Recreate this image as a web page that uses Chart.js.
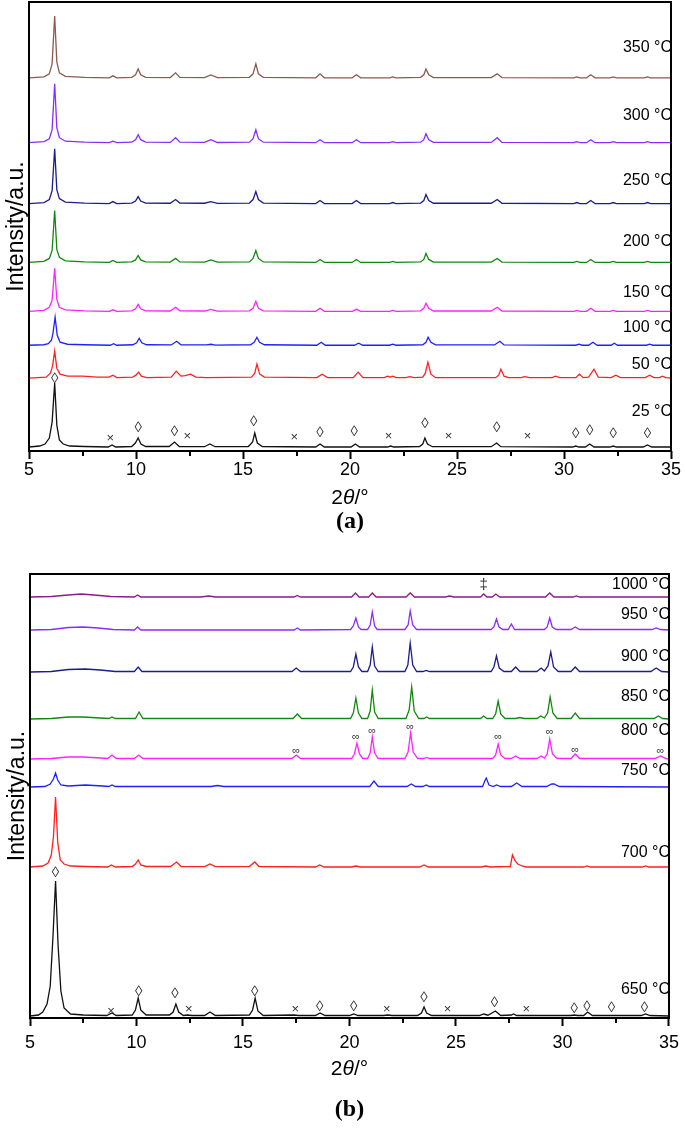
<!DOCTYPE html>
<html>
<head>
<meta charset="utf-8">
<script src="https://cdn.jsdelivr.net/npm/chart.js@4.4.1/dist/chart.umd.min.js"></script>
<style>
  html, body { margin: 0; padding: 0; background: #fff; }
  #wrap { position: relative; width: 685px; height: 1132px; }
  .panel { position: absolute; left: 0; width: 685px; }
  #boxA { top: 0; height: 560px; }
  #boxB { top: 566px; height: 566px; }
</style>
</head>
<body>
<div id="wrap">
  <div class="panel" id="boxA"><canvas id="chartA" width="685" height="560"></canvas></div>
  <div class="panel" id="boxB"><canvas id="chartB" width="685" height="566"></canvas></div>
</div>
<script>
// ---- panel (a): 25-350 °C ----
const tempsA = ['350 °C', '300 °C', '250 °C', '200 °C', '150 °C', '100 °C', '50 °C', '25 °C'];
const offsetsA = [374, 309, 248, 189, 140, 106, 73, 4];
const labelLevelA = [404, 336, 271, 210, 159, 124, 87, 39];

const p350 = [[5,0],[5.7,1],[5.95,4],[6.08,14],[6.2,62],[6.3,16],[6.42,5],[6.7,1.5],[7.6,0.5],[8.75,0],[8.92,2],[9.1,0],[9.8,0.5],[9.98,3],[10.1,9],[10.22,3],[10.45,0.5],[11.6,0.3],[11.85,5],[12.05,0.5],[13.2,0.3],[13.5,3],[13.8,0.2],[15.3,0.5],[15.47,4],[15.6,14],[15.72,4],[15.95,0.5],[18.4,0],[18.6,4],[18.8,0],[20.1,0],[20.3,3],[20.5,0],[21.85,0],[22,1],[22.15,0],[23.3,0.5],[23.45,3],[23.55,9],[23.68,3],[23.9,0.3],[26.6,0.3],[26.88,4],[27.1,0.3],[30.45,0],[30.6,1],[30.75,0],[31.05,0],[31.25,3],[31.45,0],[32.15,0],[32.3,1],[32.45,0],[33.75,0],[33.9,1],[34.05,0],[35,0]];
const p300 = [[5,0],[5.7,1],[5.95,4],[6.08,13],[6.2,59],[6.3,15],[6.42,5],[6.7,1.5],[7.6,0.5],[8.75,0],[8.92,1.5],[9.1,0],[9.8,0.5],[9.98,3],[10.1,8],[10.22,3],[10.45,0.5],[11.6,0.3],[11.85,5],[12.05,0.5],[13.2,0.3],[13.5,3],[13.8,0.2],[15.3,0.5],[15.47,4],[15.6,13],[15.72,4],[15.95,0.5],[18.4,0],[18.6,3],[18.8,0],[20.1,0],[20.3,3],[20.5,0],[21.85,0],[22,1],[22.15,0],[23.3,0.5],[23.45,3],[23.55,9],[23.68,3],[23.9,0.3],[26.6,0.3],[26.88,5],[27.1,0.3],[30.45,0],[30.6,1],[30.75,0],[31.05,0],[31.25,3],[31.45,0],[32.15,0],[32.3,1],[32.45,0],[33.75,0],[33.9,1],[34.05,0],[35,0]];
const p250 = [[5,0],[5.7,1],[5.95,4],[6.08,13],[6.2,55],[6.3,14],[6.42,5],[6.7,1.5],[7.6,0.5],[8.75,0],[8.92,2],[9.1,0],[9.8,0.5],[9.98,2.5],[10.1,7],[10.22,2.5],[10.45,0.5],[11.6,0.3],[11.85,4],[12.05,0.5],[13.2,0.3],[13.5,2],[13.8,0.2],[15.3,0.5],[15.47,4],[15.6,12],[15.72,4],[15.95,0.5],[18.4,0],[18.6,3],[18.8,0],[20.1,0],[20.3,3],[20.5,0],[21.85,0],[22,1],[22.15,0],[23.3,0.5],[23.45,3],[23.55,9],[23.68,3],[23.9,0.3],[26.6,0.3],[26.88,4],[27.1,0.3],[30.45,0],[30.6,1],[30.75,0],[31.05,0],[31.25,3],[31.45,0],[32.15,0],[32.3,1],[32.45,0],[33.75,0],[33.9,1],[34.05,0],[35,0]];
const p200 = [[5,0],[5.7,1],[5.95,4],[6.08,12],[6.2,52],[6.3,13],[6.42,5],[6.7,1.5],[7.6,0.5],[8.75,0],[8.92,2],[9.1,0],[9.8,0.5],[9.98,2.5],[10.1,7],[10.22,2.5],[10.45,0.5],[11.6,0.3],[11.85,4],[12.05,0.5],[13.2,0.3],[13.5,2.5],[13.8,0.2],[15.3,0.5],[15.47,4],[15.6,12],[15.72,4],[15.95,0.5],[18.4,0],[18.6,3],[18.8,0],[20.1,0],[20.3,3],[20.5,0],[21.85,0],[22,1],[22.15,0],[23.3,0.5],[23.45,3],[23.55,9],[23.68,3],[23.9,0.3],[26.6,0.3],[26.88,4],[27.1,0.3],[30.45,0],[30.6,1],[30.75,0],[31.05,0],[31.25,3],[31.45,0],[32.15,0],[32.3,1],[32.45,0],[33.75,0],[33.9,1],[34.05,0],[35,0]];
const p150 = [[5,0],[5.7,1],[5.95,4],[6.08,11],[6.2,43],[6.3,12],[6.42,4],[6.7,1.5],[7.6,0.5],[8.75,0],[8.92,1.5],[9.1,0],[9.8,0.5],[9.98,2.5],[10.1,7],[10.22,2.5],[10.45,0.5],[11.6,0.3],[11.85,4],[12.05,0.5],[13.2,0.3],[13.5,2],[13.8,0.2],[15.3,0.5],[15.47,3],[15.6,10],[15.72,3],[15.95,0.5],[18.4,0],[18.6,3],[18.8,0],[20.1,0],[20.3,2],[20.5,0],[21.85,0],[22,1],[22.15,0],[23.3,0.5],[23.45,3],[23.55,8],[23.68,3],[23.9,0.3],[26.6,0.3],[26.88,4],[27.1,0.3],[30.45,0],[30.6,1],[30.75,0],[31.05,0],[31.25,3],[31.45,0],[32.15,0],[32.3,1],[32.45,0],[33.75,0],[33.9,1],[34.05,0],[35,0]];
const p100 = [[5,0],[5.7,0.5],[5.9,1.5],[6.05,5],[6.12,12],[6.22,28],[6.32,10],[6.45,3],[6.8,1],[7.6,0.5],[8.8,0],[8.95,1.5],[9.1,0],[9.85,0.5],[10.03,2.5],[10.15,7],[10.27,2.5],[10.5,0.5],[11.65,0.3],[11.9,4],[12.1,0.5],[13.3,0.3],[13.5,1],[13.7,0.2],[15.35,0.5],[15.52,3],[15.65,8],[15.77,3],[16,0.5],[18.45,0],[18.65,3],[18.85,0],[20.2,0],[20.4,2],[20.6,0],[21.85,0],[22,1],[22.15,0],[23.4,0.5],[23.55,3],[23.65,8],[23.78,3],[24,0.3],[26.75,0.3],[27,4],[27.2,0.3],[30.55,0],[30.7,1],[30.85,0],[31.15,0],[31.35,3],[31.55,0],[32.2,0],[32.35,2],[32.5,0],[33.85,0],[34,1],[34.15,0],[35,0]];
const p50 = [[5,0],[5.8,1],[6,5],[6.1,12],[6.2,27],[6.3,10],[6.45,4],[6.8,2],[7.5,2],[8.2,1],[8.75,1],[8.92,3],[9.1,0.5],[9.85,1],[10,3],[10.12,6],[10.25,2],[10.5,0.5],[11.65,1],[11.88,7],[12.1,2],[12.3,2.5],[12.55,4],[12.8,1],[13.3,0.5],[15.4,1],[15.55,5],[15.65,14],[15.78,4],[16,1],[18.45,0.5],[18.7,4],[18.95,0.5],[20.15,0.5],[20.38,6],[20.6,0.5],[21.6,0.5],[21.75,2],[21.88,1],[22,2],[22.15,0.5],[22.6,0.5],[22.8,1.5],[23,0.5],[23.4,1],[23.52,5],[23.64,16],[23.78,4],[24,0.5],[26.8,0.5],[26.95,3],[27.05,9],[27.2,2],[27.4,0.5],[28,0.5],[28.15,1.5],[28.4,0.5],[29.45,0.5],[29.6,2],[29.8,0.5],[30.55,0.5],[30.72,4],[30.9,0.5],[31.15,1],[31.4,9],[31.6,1],[32.2,0.5],[32.42,3],[32.65,0.5],[33.8,0.5],[34,3],[34.2,0.5],[34.45,0.5],[34.6,2],[34.75,0.5],[35,0]];
const p25 = [[5,0],[5.5,1],[5.75,3],[5.95,9],[6.08,25],[6.2,64],[6.3,22],[6.42,7],[6.6,3],[6.9,1],[7.6,0.5],[8.7,0],[8.88,2],[9.05,0],[9.8,0.5],[9.97,4],[10.1,9],[10.23,3],[10.45,0.5],[11.55,0.5],[11.8,5],[12.02,0.5],[13.2,0.3],[13.45,3],[13.7,0.3],[15.25,0.5],[15.45,5],[15.55,14],[15.67,4],[15.9,0.5],[18.4,0],[18.6,3],[18.8,0],[20.05,0],[20.25,3],[20.45,0],[21.75,0],[21.9,1],[22.05,0],[23.25,0.5],[23.4,3],[23.5,9],[23.62,3],[23.85,0.3],[26.6,0.3],[26.85,4],[27.05,0.3],[30.4,0],[30.55,1],[30.7,0],[31,0],[31.2,3],[31.4,0],[32.15,0],[32.3,1],[32.45,0],[33.7,0],[33.9,2],[34.1,0],[35,0]];
const patternsA = [p350, p300, p250, p200, p150, p100, p50, p25];

// phase marks over the 25 °C pattern: [2θ, level, symbol]
const marksA = [[6.2,72,'◊'],[8.8,13,'×'],[10.1,23,'◊'],[11.8,19,'◊'],[12.4,15,'×'],[15.5,29,'◊'],[17.4,14,'×'],[18.6,18,'◊'],[20.2,19,'◊'],[21.8,15,'×'],[23.5,27,'◊'],[24.6,15,'×'],[26.85,23,'◊'],[28.3,15,'×'],[30.55,17,'◊'],[31.2,20,'◊'],[32.3,17,'◊'],[33.9,17,'◊']];

// ---- panel (b): 650-1000 °C ----
const tempsB = ['1000 °C', '950 °C', '900 °C', '850 °C', '800 °C', '750 °C', '700 °C', '650 °C'];
const offsetsB = [421, 388, 346, 299, 259, 231, 151, 2];
const labelLevelB = [433, 403, 361, 321, 287, 247, 165, 28];

const p1000 = [[5,0],[6,0.5],[6.8,2],[7.4,3],[8,2],[8.8,0.5],[9.9,0],[10.05,2],[10.2,0],[13,0],[13.4,1],[13.7,0],[17.4,0],[17.55,1.5],[17.7,0],[20.1,0],[20.28,4],[20.45,0],[20.9,0],[21.07,4],[21.25,0],[22.65,0],[22.85,4],[23.05,0],[24.5,0],[24.7,1],[24.9,0],[26.15,0],[26.3,3],[26.45,0],[26.7,0],[26.87,3],[27.05,0],[29.2,0],[29.4,4],[29.6,0],[30.5,0],[30.65,1],[30.8,0],[35,0]];
const p950 = [[5,0],[6,0.5],[6.8,2.5],[7.5,3],[8.2,2],[8.9,0.5],[9.9,0],[10.05,3],[10.2,0],[17.4,0],[17.55,2],[17.7,0],[20.05,0.5],[20.18,4],[20.3,12],[20.42,3],[20.55,0.5],[20.85,0.5],[20.97,5],[21.07,18],[21.18,4],[21.3,0.5],[22.6,0.5],[22.75,5],[22.85,19],[22.97,5],[23.15,0.5],[26.65,0.5],[26.78,3],[26.9,11],[27.02,3],[27.2,0.5],[27.45,0.5],[27.6,6],[27.75,0.5],[29.15,0.5],[29.28,3],[29.4,12],[29.52,3],[29.7,0.5],[30.4,0.5],[30.6,3],[30.8,0.5],[34.2,0.5],[34.4,2],[34.6,0.5],[35,0]];
const p900 = [[5,0],[6,0.5],[6.8,2.5],[7.6,3],[8.3,2],[9,0.5],[9.9,0.5],[10.08,5],[10.25,0.5],[17.3,0.5],[17.5,4],[17.7,0.5],[20.05,0.5],[20.18,5],[20.3,18],[20.42,5],[20.58,0.5],[20.85,0.5],[20.97,7],[21.07,25],[21.18,6],[21.35,0.5],[22.6,0.5],[22.74,7],[22.85,29],[22.97,7],[23.15,0.5],[23.45,0.5],[23.6,1.5],[23.75,0.5],[26.65,0.5],[26.78,5],[26.9,16],[27.03,4],[27.25,0.5],[27.6,0.5],[27.8,5],[28,0.5],[28.8,0.5],[29,4],[29.15,1],[29.32,6],[29.45,20],[29.58,5],[29.8,0.5],[30.4,0.5],[30.6,5],[30.8,0.5],[34.15,0.5],[34.4,4],[34.65,0.5],[35,0]];
const p850 = [[5,0],[6,0.5],[6.8,2],[7.5,2],[8.3,1],[8.7,0.5],[8.85,2],[9,0.5],[9.95,0.5],[10.12,7],[10.3,0.5],[17.35,0.5],[17.55,5],[17.75,0.5],[20.05,0.5],[20.18,6],[20.3,21],[20.42,6],[20.58,0.5],[20.85,0.5],[20.97,8],[21.07,29],[21.18,7],[21.35,0.5],[22.65,0.5],[22.8,9],[22.92,32],[23.04,8],[23.25,0.5],[23.5,0.5],[23.62,2],[23.75,0.5],[26.15,0.5],[26.3,3],[26.45,0.5],[26.72,0.5],[26.86,5],[26.98,18],[27.1,5],[27.3,0.5],[27.8,0.5],[28,1.5],[28.2,0.5],[28.8,0.5],[28.98,3],[29.15,1],[29.3,6],[29.42,22],[29.55,6],[29.75,0.5],[30.4,0.5],[30.6,6],[30.8,0.5],[34.3,0.5],[34.5,3],[34.7,0.5],[35,0]];
const p800 = [[5,0],[6,0.5],[6.8,2],[7.5,2],[8.3,1],[8.65,0.5],[8.85,4],[9.05,0.5],[9.9,0.5],[10.1,4],[10.3,0.5],[17.3,0.5],[17.5,4],[17.7,0.5],[20.1,0.5],[20.23,5],[20.35,16],[20.47,5],[20.62,0.5],[20.85,0.5],[20.97,6],[21.07,22],[21.18,6],[21.35,0.5],[22.6,0.5],[22.75,7],[22.87,26],[22.99,7],[23.2,0.5],[23.5,0.5],[23.62,1.5],[23.75,0.5],[26.72,0.5],[26.86,4],[26.98,15],[27.1,4],[27.3,0.5],[27.6,0.5],[27.8,3],[28,0.5],[28.8,0.5],[29,3],[29.15,1],[29.28,5],[29.4,20],[29.53,5],[29.75,0.5],[30.4,0.5],[30.6,5],[30.8,0.5],[34.35,0.5],[34.6,3],[34.85,0.5],[35,0]];
const p750 = [[5,0],[5.7,0.5],[5.95,3],[6.1,8],[6.2,14],[6.3,7],[6.45,2],[6.8,1],[7.6,2],[8.4,1],[8.7,0.5],[8.85,2],[9,0.5],[13.5,0.5],[13.8,1.5],[14.1,0.5],[20.95,0.5],[21.15,6],[21.35,0.5],[22.7,0.5],[22.9,3],[23.1,0.5],[23.45,0.5],[23.6,2],[23.75,0.5],[26.25,0.5],[26.35,6],[26.42,9],[26.55,2],[26.75,0.5],[26.9,2],[27.1,0.5],[27.6,0.5],[27.85,4],[28.1,0.5],[29.25,0.5],[29.5,3],[29.6,3],[29.85,0.5],[35,0]];
const p700 = [[5,0],[5.6,1],[5.85,4],[6,12],[6.1,30],[6.2,70],[6.3,25],[6.42,7],[6.6,3],[6.9,1],[7.6,0.5],[8.65,0],[8.82,2],[9,0],[9.8,0.5],[9.95,3],[10.08,7],[10.2,2],[10.45,0.5],[11.6,0.5],[11.88,5],[12.1,0.5],[13.2,0.3],[13.45,3],[13.7,0.3],[15.3,0.5],[15.55,5],[15.75,0.5],[18.4,0],[18.6,2],[18.8,0],[20.1,0],[20.3,1],[20.5,0],[23.3,0],[23.5,2],[23.7,0],[26.2,0],[26.4,1],[26.6,0],[27.55,0.5],[27.65,12],[27.78,6],[27.9,3],[28.1,1],[28.3,0],[31,0],[31.15,1],[31.3,0],[33.75,0],[33.9,1],[34.05,0],[35,0]];
const p650 = [[5,0],[5.4,1],[5.6,4],[5.8,12],[5.95,30],[6.08,80],[6.2,135],[6.32,70],[6.45,25],[6.6,8],[6.9,2],[7.5,1],[8.6,0.5],[8.85,3],[9.05,0.5],[9.8,1],[9.95,6],[10.08,18],[10.2,6],[10.45,1],[11.55,1],[11.72,4],[11.85,12],[11.98,4],[12.2,0.5],[12.4,1],[12.6,0.5],[13.2,0.5],[13.45,4],[13.7,0.5],[15.3,1],[15.45,6],[15.57,18],[15.7,5],[15.95,0.5],[17.4,1],[17.6,0.5],[18.4,0.5],[18.62,3],[18.85,0.5],[20,0.5],[20.2,2],[20.4,0.5],[21.6,0.5],[21.8,1],[22,0.5],[23.2,0.5],[23.38,3],[23.5,9],[23.62,3],[23.85,0.5],[26.1,0.5],[26.3,2],[26.5,0.8],[26.85,5],[27.1,0.5],[27.6,1],[27.7,2],[27.85,0.5],[30.4,0.5],[30.55,1],[30.7,0.5],[31,0.5],[31.18,4],[31.4,0.5],[33.7,0.5],[33.9,2],[34.1,0.5],[35,0]];
const patternsB = [p1000, p950, p900, p850, p800, p750, p700, p650];

const marksB = [[6.2,145,'◊'],[8.8,7,'×'],[10.1,26,'◊'],[11.8,24,'◊'],[12.45,9,'×'],[15.55,26,'◊'],[17.45,9,'×'],[18.6,11,'◊'],[20.2,11,'◊'],[21.75,9,'×'],[23.5,20,'◊'],[24.6,9,'×'],[26.8,15,'◊'],[28.3,9,'×'],[30.55,9,'◊'],[31.15,11,'◊'],[32.3,10,'◊'],[33.85,10,'◊'],
  [17.5,267,'∞'],[20.3,281,'∞'],[21.07,287,'∞'],[22.85,291,'∞'],[26.98,281,'∞'],[29.4,286,'∞'],[30.6,268,'∞'],[34.6,267,'∞'],[26.3,433,'‡']];

// ---- styles ----
const SANS = '"Liberation Sans", Arial, sans-serif';
const SERIF = '"Liberation Serif", "Times New Roman", serif';
const colorsA = ['#8c5a50', '#8a2cff', '#1c1c8c', '#118811', '#ff22ff', '#2020ff', '#ff2020', '#111111'];
const colorsB = ['#8b1a8b', '#8a2cff', '#1c1c8c', '#118811', '#ff22ff', '#2020ff', '#ff2020', '#111111'];

function buildSeries(patterns, offsets) {
  return patterns.map((p, i) => p.map(([x, y]) => ({ x: x, y: y + offsets[i] })));
}

function makeDecor(marks, labels, levels, titleDy, letter, letterDy) {
  return {
    id: 'decor',
    afterDraw(chart) {
      const { ctx, chartArea: a, scales: { x, y } } = chart;
      ctx.save();
      ctx.strokeStyle = '#000';
      ctx.lineWidth = 2;
      // minor ticks
      for (let v = x.min + 2.5; v < x.max; v += 5) {
        const px = Math.round(x.getPixelForValue(v));
        ctx.beginPath();
        ctx.moveTo(px, a.bottom);
        ctx.lineTo(px, a.bottom + 5);
        ctx.stroke();
      }
      // frame
      ctx.strokeRect(a.left, a.top, a.right - a.left, a.bottom - a.top);

      // phase symbols
      ctx.fillStyle = '#333';
      ctx.textAlign = 'center';
      ctx.textBaseline = 'middle';
      marks.forEach(([vx, vy, s]) => {
        ctx.font = (s === '∞' ? '11px ' : s === '×' ? '13px ' : '15px ') + SANS;
        ctx.fillText(s, x.getPixelForValue(vx), y.getPixelForValue(vy));
      });

      // temperature labels
      ctx.fillStyle = '#000';
      ctx.font = '16px ' + SANS;
      ctx.textAlign = 'right';
      labels.forEach((t, i) => ctx.fillText(t, a.right + 1, y.getPixelForValue(levels[i])));

      // x title "2θ/°"
      const ty = a.bottom + titleDy;
      const cx = (a.left + a.right) / 2;
      ctx.textAlign = 'left';
      const fUp = '21px ' + SANS, fIt = 'italic 21px ' + SANS;
      ctx.font = fUp; const w1 = ctx.measureText('2').width, w3 = ctx.measureText('/°').width;
      ctx.font = fIt; const w2 = ctx.measureText('θ').width;
      let sx = cx - (w1 + w2 + w3) / 2;
      ctx.font = fUp; ctx.fillText('2', sx, ty); sx += w1;
      ctx.font = fIt; ctx.fillText('θ', sx, ty); sx += w2;
      ctx.font = fUp; ctx.fillText('/°', sx, ty);

      // panel letter
      ctx.textAlign = 'center';
      ctx.font = 'bold 24px ' + SERIF;
      ctx.fillText(letter, cx, a.bottom + letterDy);
      ctx.restore();
    }
  };
}

function makeChart(id, patterns, offsets, colors, yMax, pad, tickPad, decor) {
  const series = buildSeries(patterns, offsets);
  return new Chart(document.getElementById(id), {
    type: 'line',
    data: {
      datasets: series.map((s, i) => ({
        data: s,
        borderColor: colors[i],
        borderWidth: 1.3,
        pointRadius: 0,
        tension: 0,
        fill: false
      }))
    },
    options: {
      responsive: false,
      animation: false,
      devicePixelRatio: 1,
      layout: { padding: pad },
      plugins: { legend: { display: false }, tooltip: { enabled: false } },
      scales: {
        x: {
          type: 'linear', min: 5, max: 35,
          ticks: { stepSize: 5, color: '#000', padding: tickPad, maxRotation: 0, font: { size: 18, family: SANS } },
          grid: { drawOnChartArea: false, tickLength: 8, tickWidth: 2, tickColor: '#000' },
          border: { display: false },
          afterFit: (s) => { s.height = 40; }
        },
        y: {
          min: 0, max: yMax,
          ticks: { display: false },
          grid: { display: false, drawTicks: false },
          border: { display: false },
          title: { display: true, text: 'Intensity/a.u.', color: '#000', padding: 0, font: { size: 23, family: SANS } },
          afterFit: (s) => { s.width = 26; }
        }
      }
    },
    plugins: [decor]
  });
}

makeChart('chartA', patternsA, offsetsA, colorsA, 450,
  { left: 3, right: 14, top: 2, bottom: 69 }, 0,
  makeDecor(marksA, tempsA, labelLevelA, 47, '(a)', 71));

makeChart('chartB', patternsB, offsetsB, colorsB, 444,
  { left: 4, right: 14, top: 8, bottom: 74 }, 6,
  makeDecor(marksB, tempsB, labelLevelB, 51, '(b)', 92));
</script>
</body>
</html>
